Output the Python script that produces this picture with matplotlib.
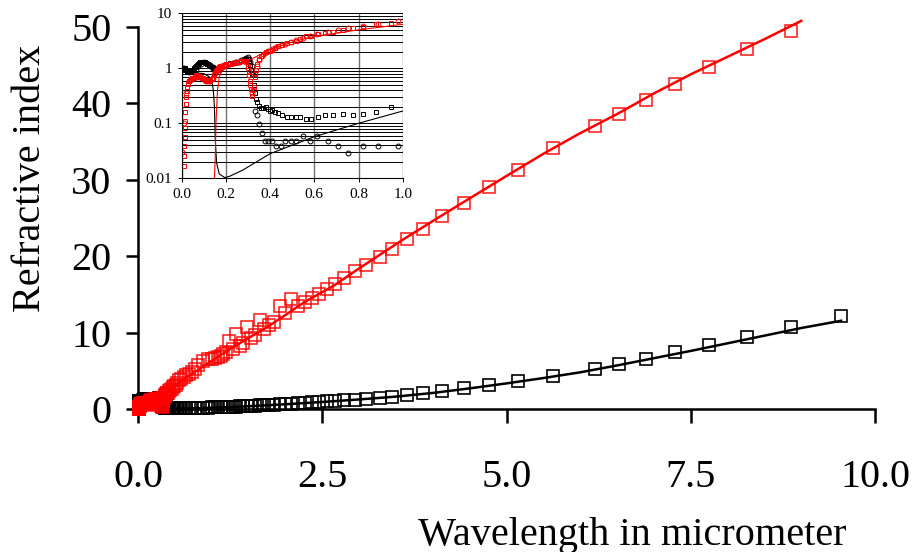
import numpy as np
import matplotlib
matplotlib.use("Agg")
import matplotlib.pyplot as plt
from matplotlib.ticker import FixedLocator, NullFormatter, FixedFormatter

plt.rcParams["font.family"] = ["Liberation Serif", "DejaVu Serif"]

# measured data, UV/visible part (squares)
wl_a = [0.010, 0.011, 0.012, 0.013, 0.014, 0.015, 0.016, 0.018, 0.020, 0.022, 0.025, 0.028,
        0.032, 0.036, 0.040, 0.045, 0.050, 0.055, 0.060, 0.065, 0.070, 0.075, 0.080, 0.085,
        0.090, 0.095, 0.100, 0.105, 0.110, 0.115, 0.120, 0.125, 0.130, 0.135, 0.140, 0.145,
        0.150, 0.155, 0.160, 0.165, 0.170, 0.175, 0.180, 0.190, 0.200, 0.210, 0.220, 0.230,
        0.240, 0.250, 0.260, 0.270, 0.280, 0.290, 0.300, 0.305, 0.310, 0.315, 0.320, 0.325,
        0.330, 0.335, 0.340, 0.350, 0.360, 0.370, 0.380, 0.390, 0.400, 0.407, 0.422, 0.437,
        0.455, 0.475, 0.495, 0.516, 0.535, 0.561, 0.585, 0.618, 0.648, 0.686, 0.728, 0.774,
        0.820, 0.880, 0.947]
n_a = [0.017, 0.025, 0.038, 0.056, 0.082, 0.112, 0.16, 0.22, 0.30, 0.38, 0.45, 0.52,
       0.58, 0.62, 0.64, 0.66, 0.68, 0.67, 0.70, 0.74, 0.72, 0.70, 0.72, 0.70,
       0.68, 0.66, 0.64, 0.62, 0.60, 0.60, 0.58, 0.60, 0.62, 0.64, 0.68, 0.75,
       0.82, 0.90, 0.95, 1.00, 1.05, 1.10, 1.12, 1.15, 1.18, 1.20, 1.22, 1.25,
       1.27, 1.30, 1.32, 1.35, 1.38, 1.35, 1.10, 0.85, 0.60, 0.42, 0.32, 0.45,
       0.70, 0.95, 1.20, 1.45, 1.65, 1.80, 1.95, 2.05, 2.10, 2.15, 2.30, 2.50,
       2.65, 2.85, 3.00, 3.15, 3.40, 3.80, 3.90, 4.20, 4.40, 4.60, 4.90, 5.30,
       5.70, 6.30, 6.60]
k_a = [1.00, 1.00, 1.00, 1.00, 0.98, 0.97, 0.95, 0.93, 0.92, 0.90, 0.89, 0.88,
       0.88, 0.89, 0.90, 0.92, 0.95, 1.00, 1.05, 1.10, 1.15, 1.20, 1.25, 1.28,
       1.30, 1.30, 1.30, 1.28, 1.25, 1.22, 1.20, 1.15, 1.10, 1.05, 1.00, 0.97,
       0.95, 0.95, 0.97, 1.00, 1.05, 1.08, 1.10, 1.15, 1.18, 1.20, 1.23, 1.25,
       1.27, 1.30, 1.32, 1.35, 1.40, 1.45, 1.45, 1.35, 1.15, 0.95, 0.80, 0.50,
       0.35, 0.28, 0.24, 0.21, 0.19, 0.19, 0.20, 0.18, 0.17, 0.175, 0.163, 0.152,
       0.140, 0.132, 0.128, 0.128, 0.128, 0.120, 0.121, 0.130, 0.140, 0.140, 0.146, 0.142,
       0.146, 0.163, 0.195]

# measured data, second set (circles)
wl_c = [0.000, 0.010, 0.020, 0.035, 0.050, 0.065, 0.075, 0.087, 0.100, 0.110, 0.120, 0.130,
        0.140, 0.148, 0.155, 0.162, 0.170, 0.180, 0.190, 0.200, 0.215, 0.230, 0.245, 0.260,
        0.270, 0.280, 0.290, 0.300, 0.305, 0.310, 0.318, 0.322, 0.332, 0.339, 0.351, 0.365,
        0.377, 0.392, 0.410, 0.427, 0.449, 0.469, 0.494, 0.517, 0.547, 0.580, 0.614, 0.660,
        0.705, 0.754, 0.820, 0.890, 0.980]
n_c = [0.03, 0.10, 0.35, 0.60, 0.66, 0.72, 0.70, 0.69, 0.65, 0.60, 0.58, 0.60,
       0.66, 0.78, 0.88, 0.96, 1.04, 1.10, 1.13, 1.17, 1.20, 1.24, 1.28, 1.30,
       1.33, 1.36, 1.30, 1.00, 0.75, 0.50, 0.35, 0.40, 0.80, 1.10, 1.40, 1.70,
       1.90, 2.05, 2.20, 2.40, 2.60, 2.80, 3.05, 3.25, 3.60, 3.90, 4.20, 4.60,
       5.00, 5.40, 5.90, 6.40, 7.10]
k_c = [1.00, 1.00, 0.95, 0.87, 0.90, 0.95, 1.10, 1.20, 1.28, 1.25, 1.20, 1.15,
       1.05, 1.00, 0.95, 0.93, 0.97, 1.00, 1.08, 1.15, 1.20, 1.23, 1.28, 1.32,
       1.40, 1.50, 1.55, 1.60, 1.50, 1.30, 1.10, 0.80, 0.17, 0.14, 0.097, 0.068,
       0.048, 0.048, 0.048, 0.039, 0.039, 0.048, 0.048, 0.048, 0.059, 0.048, 0.059, 0.048,
       0.039, 0.029, 0.039, 0.039, 0.039]

# measured data, infrared part (squares)
wl_b = [1.00, 1.05, 1.08, 1.12, 1.16, 1.20, 1.24, 1.29, 1.33, 1.38, 1.42, 1.48, 1.53, 1.59,
        1.65, 1.71, 1.78, 1.85, 1.92, 2.00, 2.08, 2.17, 2.26, 2.36, 2.46, 2.57, 2.67, 2.80,
        2.95, 3.10, 3.28, 3.45, 3.65, 3.87, 4.13, 4.42, 4.76, 5.16, 5.63, 6.20, 6.53, 6.89,
        7.29, 7.75, 8.26, 8.86, 9.54]
n_b = [6.5, 6.7, 6.8, 7.0, 7.2, 7.4, 8.9, 7.9, 9.8, 8.3, 8.6, 10.7, 9.3, 9.7,
       11.7, 10.5, 11.0, 11.4, 13.5, 12.5, 14.4, 13.5, 14.0, 14.5, 15.0, 15.7, 16.3, 17.1,
       18.1, 18.9, 19.9, 21.0, 22.2, 23.6, 25.2, 26.9, 29.0, 31.3, 34.1, 37.1, 38.6, 40.4,
       42.6, 44.8, 47.1, 49.5, np.nan]
k_b = [0.20, 0.21, 0.22, 0.23, 0.25, 0.26, 0.28, 0.30, 0.32, 0.34, 0.36, 0.39, 0.41, 0.44,
       0.47, 0.50, 0.54, 0.58, 0.62, 0.66, 0.71, 0.76, 0.82, 0.88, 0.94, 1.00, 1.07, 1.15,
       1.24, 1.32, 1.40, 1.60, 1.80, 2.05, 2.40, 2.70, 3.10, 3.70, 4.35, 5.30, 5.90, 6.60,
       7.40, 8.40, 9.40, 10.70, 12.20]

# model curves
wl_mn = [0.148, 0.152, 0.155, 0.162, 0.170, 0.185, 0.215, 0.275, 0.305, 0.400, 0.500, 0.600,
         0.800, 1.000, 1.290, 1.500, 1.750, 2.000, 2.260, 2.650, 3.000, 3.600, 4.100, 4.370,
         5.000, 5.500, 6.000, 6.500, 7.000, 7.500, 8.000, 8.500, 9.000]
n_m = [0.01, 0.025, 0.10, 0.40, 0.70, 0.93, 1.10, 1.27, 1.40, 2.20, 3.00, 3.80,
       5.00, 6.30, 8.10, 9.30, 10.70, 12.30, 14.00, 16.10, 18.40, 22.20, 25.20, 26.80,
       30.50, 33.40, 36.10, 38.60, 41.30, 43.80, 46.10, 48.40, 50.80]
wl_mk = [0.000, 0.050, 0.100, 0.125, 0.137, 0.143, 0.148, 0.152, 0.158, 0.170, 0.195, 0.215,
         0.275, 0.400, 0.600, 0.800, 1.000, 1.500, 2.000, 2.500, 3.000, 3.500, 4.000, 4.500,
         5.000, 5.500, 6.000, 6.500, 7.000, 7.500, 8.000, 8.500, 9.000, 9.540]
k_m = [0.85, 0.84, 0.80, 0.70, 0.57, 0.40, 0.20, 0.05, 0.019, 0.012, 0.0103, 0.0108,
       0.014, 0.028, 0.057, 0.10, 0.167, 0.36, 0.62, 0.92, 1.25, 1.62, 2.10, 2.70,
       3.35, 4.05, 4.80, 5.70, 6.65, 7.60, 8.60, 9.60, 10.60, 11.55]

red = "#ff0000"

fig = plt.figure(figsize=(9.13, 5.52), dpi=100)
ax = fig.add_axes([138 / 913, 143 / 552, 737 / 913, 393.5 / 552])

wl_all = wl_a + wl_b
n_all = n_a + n_b
k_all = k_a + k_b

ax.plot(wl_all, k_all, "s", mfc="none", mec="black", ms=9, mew=1.2, clip_on=False, zorder=3)
ax.plot(wl_mk, k_m, "-", color="black", lw=1.8, zorder=4)
ax.plot(wl_all, n_all, "s", mfc="none", mec=red, ms=9, mew=1.2, alpha=0.85, clip_on=False, zorder=5)
ax.plot(wl_mn, n_m, "-", color=red, lw=1.8, zorder=6)

ax.set_xlim(0, 10)
ax.set_ylim(0, 51.5)
ax.set_xticks([0, 2.5, 5, 7.5, 10])
ax.set_xticklabels(["0.0", "2.5", "5.0", "7.5", "10.0"])
ax.set_yticks([0, 10, 20, 30, 40, 50])
ax.spines["top"].set_visible(False)
ax.spines["right"].set_visible(False)
ax.spines["left"].set_bounds(0, 50)
ax.spines["bottom"].set_bounds(0, 10)
for s in ["left", "bottom"]:
    ax.spines[s].set_linewidth(1.8)
ax.tick_params(axis="both", direction="out", width=1.8, labelsize=29)
ax.tick_params(axis="x", length=10, pad=26)
ax.tick_params(axis="y", length=9, pad=10)

fig.text(632 / 913, 1 - 535 / 552, "Wavelength in micrometer", fontsize=29, ha="center", va="center")
fig.text(30 / 913, 1 - 178 / 552, "Refractive index", fontsize=29, rotation=90, ha="center", va="center")

# inset with log scale
ins = fig.add_axes([181.7 / 913, (552 - 178.3) / 552, 221 / 913, 165 / 552])
ins.set_facecolor("white")
ins.set_yscale("log")
ins.set_xlim(0, 1.0)
ins.set_ylim(0.01, 10)

minor = [m * 10.0 ** e for e in (-2, -1, 0) for m in range(2, 10)]
ins.yaxis.set_minor_locator(FixedLocator(minor))
ins.yaxis.set_minor_formatter(NullFormatter())
ins.yaxis.set_major_locator(FixedLocator([0.01, 0.1, 1, 10]))
ins.yaxis.set_major_formatter(FixedFormatter(["0.01", "0.1", "1", "10"]))
ins.set_xticks([0, 0.2, 0.4, 0.6, 0.8, 1.0])
ins.set_xticklabels(["0.0", "0.2", "0.4", "0.6", "0.8", "1.0"])
ins.grid(True, axis="y", which="both", color="black", lw=0.7)
ins.grid(True, axis="x", which="major", color="#707070", lw=1.0)
ins.set_axisbelow(True)
ins.spines["top"].set_visible(False)
ins.spines["right"].set_visible(False)
ins.spines["left"].set_linewidth(0.8)
ins.spines["bottom"].set_linewidth(0.8)
ins.tick_params(axis="both", which="major", direction="out", length=3, width=0.7, labelsize=11, pad=4)
ins.tick_params(axis="y", which="minor", length=0)

ins.plot(wl_a, k_a, "s", mfc="none", mec="black", ms=3.5, mew=0.7)
ins.plot(wl_c, k_c, "o", mfc="none", mec="black", ms=3.5, mew=0.7)
ins.plot(wl_mk, k_m, "-", color="black", lw=0.8)
ins.plot(wl_a, n_a, "s", mfc="none", mec=red, ms=3.5, mew=0.7)
ins.plot(wl_c, n_c, "o", mfc="none", mec=red, ms=3.5, mew=0.7)
ins.plot(wl_mn, n_m, "-", color=red, lw=0.8)

fig.savefig("out.png", dpi=100)
